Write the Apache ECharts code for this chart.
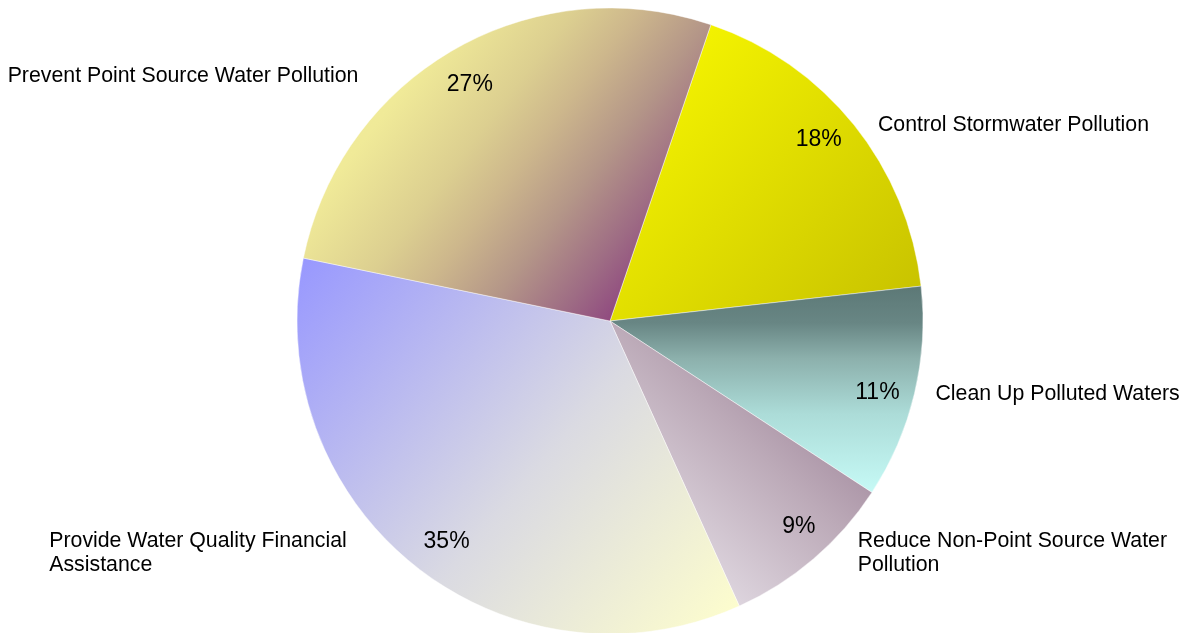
<!DOCTYPE html>
<html>
<head>
<meta charset="utf-8">
<script src="https://cdn.jsdelivr.net/npm/echarts@6/dist/echarts.min.js"></script>
<style>
  html, body { margin: 0; padding: 0; background: #ffffff; }
  #chart { width: 1188px; height: 633px; }
</style>
</head>
<body>
<div id="chart"></div>
<script>
// Water program budget shares, clockwise from the upper right
const categories = [
  'Control Stormwater Pollution',
  'Clean Up Polluted Waters',
  'Reduce Non-Point Source Water\nPollution',
  'Provide Water Quality Financial\nAssistance',
  'Prevent Point Source Water Pollution'
];
const shares = [18, 11, 9, 35, 27];

// Gradient fill of each slice: colour stops [offset, colour] and direction (x, y, x2, y2)
const fills = [
  { stops: [[0, '#fcfc00'], [1, '#c6c000']], dir: [0, 0, 1, 1] },
  { stops: [[0, '#5c7876'], [0.18, '#688684'], [0.35, '#8cb0ac'], [0.62, '#acdcd8'], [1, '#c6faf6']], dir: [0, 0, 0, 1] },
  { stops: [[0, '#886882'], [0.45, '#bcaab8'], [1, '#f4f2f8']], dir: [1, 0, 0, 1] },
  { stops: [[0, '#9797ff'], [0.55, '#dadae2'], [1, '#ffffcc']], dir: [0, 0, 1, 1] },
  { stops: [[0, '#f2ee9c'], [0.25, '#f0ea98'], [0.42, '#dccf90'], [0.52, '#cdb78c'], [0.64, '#b49688'], [0.76, '#9e6c84'], [0.88, '#8a3c7e'], [1, '#82307a']], dir: [0, 0, 1, 1] }
];
// Fine offsets for the outside category labels and the inner percentage labels
const nameShift = [[0, 0], [-3, 1], [20, -6], [-44, -12], [-72, 27]];
const pctShift = [[-8, -7], [-3, 7], [8, -5], [10, 3], [-2, 5]];

const FONT = '"Liberation Sans", Arial, Helvetica, sans-serif';
const CENTER = [610, 321];
const RADIUS = 313;
const START = 71.2;

function gradient(f) {
  return new echarts.graphic.LinearGradient(f.dir[0], f.dir[1], f.dir[2], f.dir[3],
    f.stops.map(s => ({ offset: s[0], color: s[1] })));
}

const sliceData = categories.map((name, i) => ({
  name: name,
  value: shares[i],
  itemStyle: { color: gradient(fills[i]) }
}));

const chart = echarts.init(document.getElementById('chart'), null, { renderer: 'canvas' });
chart.setOption({
  animation: false,
  backgroundColor: '#ffffff',
  series: [
    {
      type: 'pie',
      center: CENTER,
      radius: RADIUS,
      startAngle: START,
      clockwise: true,
      avoidLabelOverlap: false,
      silent: true,
      itemStyle: { borderColor: 'rgba(255,255,255,0.55)', borderWidth: 0.8 },
      label: {
        show: true,
        position: 'outside',
        formatter: '{b}',
        color: '#000000',
        fontFamily: FONT,
        fontSize: 21.3,
        lineHeight: 24
      },
      labelLine: { show: false, length: 0, length2: 19 },
      labelLayout: function (p) {
        const r = p.labelRect;
        const s = nameShift[p.dataIndex];
        return {
          x: r.x + s[0],
          y: r.y + r.height / 2 + s[1],
          align: 'left',
          verticalAlign: 'middle'
        };
      },
      data: sliceData
    },
    {
      type: 'pie',
      center: CENTER,
      radius: [237, RADIUS],
      startAngle: START,
      clockwise: true,
      silent: true,
      itemStyle: { color: 'rgba(0,0,0,0)' },
      label: {
        show: true,
        position: 'inside',
        formatter: '{d}%',
        color: '#000000',
        fontFamily: FONT,
        fontSize: 23
      },
      labelLine: { show: false },
      labelLayout: function (p) {
        const s = pctShift[p.dataIndex];
        return { dx: s[0], dy: s[1] };
      },
      data: categories.map((name, i) => ({ name: name, value: shares[i] }))
    }
  ]
});
</script>
</body>
</html>
